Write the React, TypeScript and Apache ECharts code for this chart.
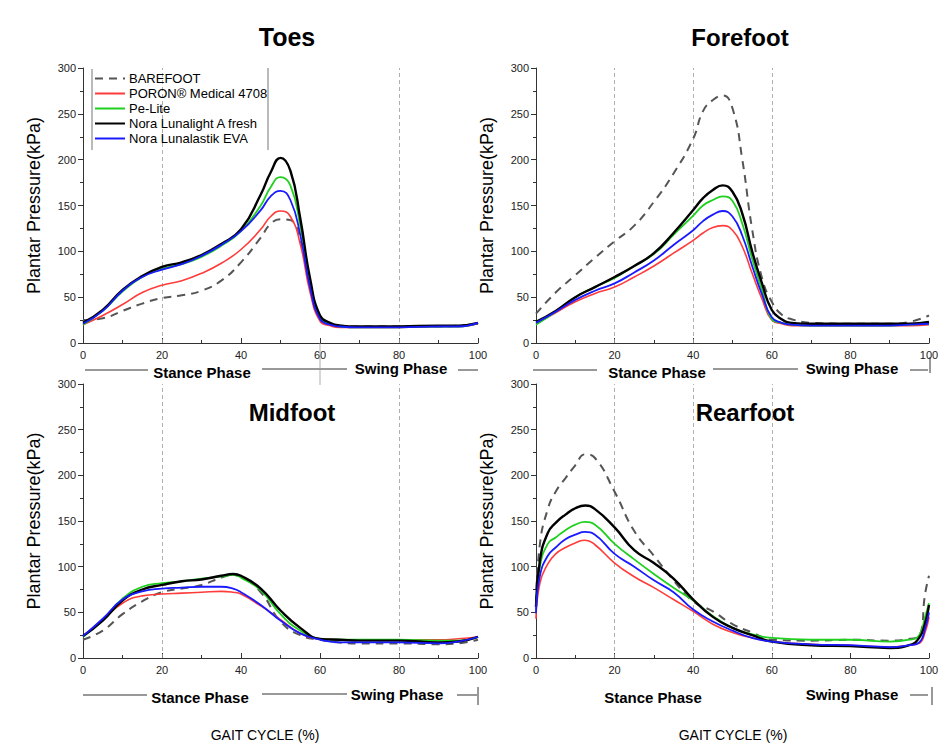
import React, { useEffect, useRef } from "react";
import * as echarts from "echarts";

const SERIES_NAMES = ["BAREFOOT", "PORON® Medical 4708", "Pe-Lite", "Nora Lunalight A fresh", "Nora Lunalastik EVA"];
const PANEL_TITLES = ["Toes", "Forefoot", "Midfoot", "Rearfoot"];
const X_AXIS_TITLE = "GAIT CYCLE (%)";
const Y_AXIS_TITLE = "Plantar Pressure(kPa)";
const PHASES = ["Stance Phase", "Swing Phase"];
const X_MIN = 0, X_MAX = 100, X_STEP = 20;
const Y_MIN = 0, Y_MAX = 300, Y_STEP = 50;

// Toes
const TOES_X = [0, 5, 10, 15, 20, 25, 30, 35, 40, 45, 47.5, 50, 52.5, 55, 57.5, 60, 62.5, 65, 70, 80, 90, 95, 100];
const TOES_BAREFOOT = [25, 27, 35, 43, 49, 52, 57, 68, 88, 115, 130, 135, 134, 112, 62, 28, 22, 19, 18, 18, 18, 19, 21];
const TOES_PORON = [20, 30, 42, 55, 63, 68, 76, 87, 102, 124, 138, 144, 138, 108, 55, 24, 19, 17, 17, 17, 18, 18, 21];
const TOES_PELITE = [20, 35, 56, 72, 81, 86, 94, 106, 122, 150, 170, 181, 172, 128, 66, 28, 21, 18, 17, 17, 18, 18, 22];
const TOES_LUNALIGHT = [22, 36, 58, 73, 83, 88, 96, 108, 124, 162, 186, 202, 188, 136, 70, 30, 22, 19, 18, 18, 19, 19, 22];
const TOES_LUNALASTIK = [21, 35, 57, 72, 80, 86, 95, 107, 122, 145, 160, 166, 156, 118, 60, 26, 20, 18, 17, 17, 18, 18, 22];

// Forefoot
const FORE_X = [0, 5, 10, 15, 20, 25, 30, 35, 40, 42.5, 45, 47.5, 50, 52.5, 55, 57.5, 60, 62.5, 65, 70, 80, 90, 95, 100];
const FORE_BAREFOOT = [32, 55, 74, 93, 111, 128, 154, 185, 223, 253, 265, 270, 256, 200, 124, 71, 45, 31, 26, 22, 21, 21, 23, 30];
const FORE_PORON = [21, 33, 45, 54, 61, 72, 84, 98, 112, 120, 126, 128, 123, 105, 76, 48, 25, 21, 19, 19, 19, 19, 19, 20];
const FORE_PELITE = [20, 34, 50, 61, 71, 84, 97, 118, 139, 150, 156, 160, 155, 130, 92, 58, 26, 22, 20, 19, 19, 19, 20, 21];
const FORE_LUNALIGHT = [23, 35, 50, 61, 72, 84, 98, 120, 145, 158, 167, 172, 165, 141, 100, 65, 36, 26, 22, 21, 21, 21, 21, 23];
const FORE_LUNALASTIK = [22, 34, 47, 57, 65, 77, 90, 107, 123, 133, 140, 144, 138, 117, 84, 53, 28, 22, 20, 19, 19, 19, 20, 21];

// Midfoot
const MID_X = [0, 5, 10, 15, 20, 25, 30, 35, 38, 40, 45, 50, 55, 60, 65, 70, 80, 90, 95, 100];
const MID_BAREFOOT = [20, 30, 48, 62, 72, 76, 80, 88, 91, 89, 72, 40, 25, 20, 17, 16, 16, 15, 16, 20];
const MID_PORON = [24, 42, 60, 68, 70, 71, 72, 73, 72, 70, 57, 42, 27, 21, 20, 20, 20, 20, 21, 23];
const MID_PELITE = [23, 42, 65, 78, 82, 84, 87, 89, 91, 88, 74, 48, 30, 21, 20, 20, 20, 19, 19, 23];
const MID_LUNALIGHT = [24, 41, 63, 75, 80, 84, 86, 90, 92, 90, 76, 52, 33, 21, 20, 19, 19, 17, 18, 23];
const MID_LUNALASTIK = [24, 43, 64, 73, 76, 77, 78, 78, 76, 72, 58, 41, 27, 20, 17, 17, 17, 16, 18, 23];

// Rearfoot
const REAR_X = [0, 1, 3, 5, 7.5, 10, 12.5, 15, 20, 25, 30, 35, 40, 45, 50, 55, 60, 70, 80, 90, 95, 97.5, 99, 100];
const REAR_BAREFOOT = [60, 125, 163, 182, 197, 211, 223, 219, 182, 139, 112, 85, 62, 51, 37, 28, 20, 19, 20, 19, 21, 24, 70, 90];
const REAR_PORON = [43, 82, 103, 114, 121, 126, 129, 124, 104, 89, 77, 64, 51, 37, 28, 22, 18, 15, 14, 12, 14, 16, 28, 45];
const REAR_PELITE = [52, 100, 125, 132, 140, 146, 149, 146, 125, 108, 92, 77, 63, 46, 33, 26, 22, 20, 20, 18, 20, 25, 45, 60];
const REAR_LUNALIGHT = [56, 107, 137, 148, 157, 164, 167, 163, 143, 118, 104, 87, 64, 45, 33, 25, 18, 14, 13, 11, 14, 22, 38, 58];
const REAR_LUNALASTIK = [49, 90, 112, 121, 130, 135, 138, 135, 114, 100, 85, 72, 53, 40, 30, 22, 18, 15, 14, 12, 14, 17, 32, 50];

const PANEL_X = [TOES_X, FORE_X, MID_X, REAR_X];
const PANEL_Y = [
  [TOES_BAREFOOT, TOES_PORON, TOES_PELITE, TOES_LUNALIGHT, TOES_LUNALASTIK],
  [FORE_BAREFOOT, FORE_PORON, FORE_PELITE, FORE_LUNALIGHT, FORE_LUNALASTIK],
  [MID_BAREFOOT, MID_PORON, MID_PELITE, MID_LUNALIGHT, MID_LUNALASTIK],
  [REAR_BAREFOOT, REAR_PORON, REAR_PELITE, REAR_LUNALIGHT, REAR_LUNALASTIK],
];
const PANEL_GUIDES = [[20, 80], [20, 40, 60], [20, 80], [20, 40, 60]];

const COLORS = ["#555555", "#ff3b3b", "#1fd01f", "#000000", "#1a1aff"];
const WIDTHS = [2, 1.6, 1.8, 2.4, 1.8];
const TYPES: any[] = [[8, 6], "solid", "solid", "solid", "solid"];

const GRIDS = [
  { left: 83, top: 68, width: 395, height: 275 },
  { left: 536, top: 68, width: 393, height: 275 },
  { left: 83, top: 384, width: 395, height: 274 },
  { left: 536, top: 384, width: 393, height: 274 },
];

const FONT = "Arial, 'Liberation Sans', Helvetica, sans-serif";

function ln(x1: number, y1: number, x2: number, y2: number, color = "#333", w = 1) {
  return { type: "line", z: 100, silent: true, shape: { x1, y1, x2, y2 }, style: { stroke: color, lineWidth: w } };
}
function txt(s: string, x: number, y: number, size: number, weight: string) {
  return {
    type: "text", z: 100, silent: true, x, y,
    style: { text: s, font: `${weight} ${size}px ${FONT}`, fill: "#000", textAlign: "center", textVerticalAlign: "middle" },
  };
}

export default function App() {
  const ref = useRef<HTMLDivElement>(null);
  useEffect(() => {
    if (!ref.current) return;
    const chart = echarts.init(ref.current, undefined, { renderer: "svg" });

    const xAxis = GRIDS.map((_, i) => ({
      type: "value", gridIndex: i, min: X_MIN, max: X_MAX, interval: X_STEP,
      axisLine: { show: true, lineStyle: { color: "#333", width: 1 } },
      axisTick: { show: true, inside: true, length: 5, lineStyle: { color: "#333" } },
      minorTick: { show: true, splitNumber: 2, length: 3, lineStyle: { color: "#333" } },
      axisLabel: { fontSize: 11, color: "#222", margin: 6, fontFamily: FONT },
      splitLine: { show: false },
    }));
    const yAxis = GRIDS.map((_, i) => ({
      type: "value", gridIndex: i, min: Y_MIN, max: Y_MAX, interval: Y_STEP,
      name: Y_AXIS_TITLE, nameLocation: "middle", nameGap: 40,
      nameTextStyle: { fontSize: 18, color: "#000", fontFamily: FONT },
      axisLine: { show: true, lineStyle: { color: "#333", width: 1 } },
      axisTick: { show: true, inside: false, length: 5, lineStyle: { color: "#333" } },
      minorTick: { show: true, splitNumber: 2, length: 3, lineStyle: { color: "#333" } },
      axisLabel: { fontSize: 11, color: "#222", margin: 7, fontFamily: FONT },
      splitLine: { show: false },
    }));

    const series: any[] = [];
    PANEL_Y.forEach((ys, p) => {
      ys.forEach((vals, s) => {
        const item: any = {
          type: "line", name: SERIES_NAMES[s], xAxisIndex: p, yAxisIndex: p,
          data: PANEL_X[p].map((x, j) => [x, vals[j]]),
          symbol: "none", showSymbol: false, smooth: 0.5,
          color: COLORS[s],
          lineStyle: { color: COLORS[s], width: WIDTHS[s], type: TYPES[s] },
          z: 2 + s,
        };
        if (s === 0) {
          item.markLine = {
            silent: true, symbol: "none", label: { show: false },
            lineStyle: { color: "#9a9a9a", width: 0.8, type: [4, 3] },
            data: PANEL_GUIDES[p].map((g) => ({ xAxis: g })),
            z: 1,
          };
        }
        series.push(item);
      });
    });

    const graphic: any[] = [
      txt(PANEL_TITLES[0], 287, 37, 25, "bold"),
      txt(PANEL_TITLES[1], 740, 37, 24, "bold"),
      txt(PANEL_TITLES[2], 292, 412, 24, "bold"),
      txt(PANEL_TITLES[3], 745, 412, 24, "bold"),
      // legend frame
      ln(92, 69, 92, 150, "#777"), ln(268, 68, 268, 150, "#777"),
      // top-left phases
      ln(85, 370, 148, 370), ln(262, 369, 347, 369), ln(458, 370, 478, 370),
      ln(320, 343, 320, 385, "#999", 0.8),
      txt(PHASES[0], 202, 372, 15, "bold"), txt(PHASES[1], 401, 368, 15, "bold"),
      // top-right phases
      ln(533, 370, 597, 370), ln(713, 369, 798, 369), ln(910, 370, 928, 370), ln(930, 357, 930, 373),
      txt(PHASES[0], 657, 372, 15, "bold"), txt(PHASES[1], 852, 368, 15, "bold"),
      // bottom-left phases
      ln(83, 695, 147, 695), ln(262, 694, 347, 694), ln(457, 695, 477, 695), ln(478, 687, 478, 705),
      txt(PHASES[0], 200, 697, 15, "bold"), txt(PHASES[1], 397, 694, 15, "bold"),
      // bottom-right phases
      ln(910, 695, 928, 695), ln(932, 687, 932, 705),
      txt(PHASES[0], 653, 697, 15, "bold"), txt(PHASES[1], 852, 694, 15, "bold"),
      txt(X_AXIS_TITLE, 265, 735, 14, "normal"),
      txt(X_AXIS_TITLE, 733, 735, 14, "normal"),
    ];

    chart.setOption({
      animation: false,
      backgroundColor: "#ffffff",
      grid: GRIDS.map((g) => ({ ...g, containLabel: false })),
      xAxis, yAxis, series, graphic,
      legend: {
        data: SERIES_NAMES, orient: "vertical", left: 89, top: 67,
        itemWidth: 30, itemHeight: 12, itemGap: 2,
        itemStyle: { opacity: 0 },
        textStyle: { fontSize: 13, color: "#000", fontFamily: FONT, padding: [0, 0, 0, -1] },
        selectedMode: false,
      },
    });
    return () => chart.dispose();
  }, []);
  return <div ref={ref} style={{ position: "fixed", left: 0, top: 0, width: 948, height: 745, background: "#fff" }} />;
}
